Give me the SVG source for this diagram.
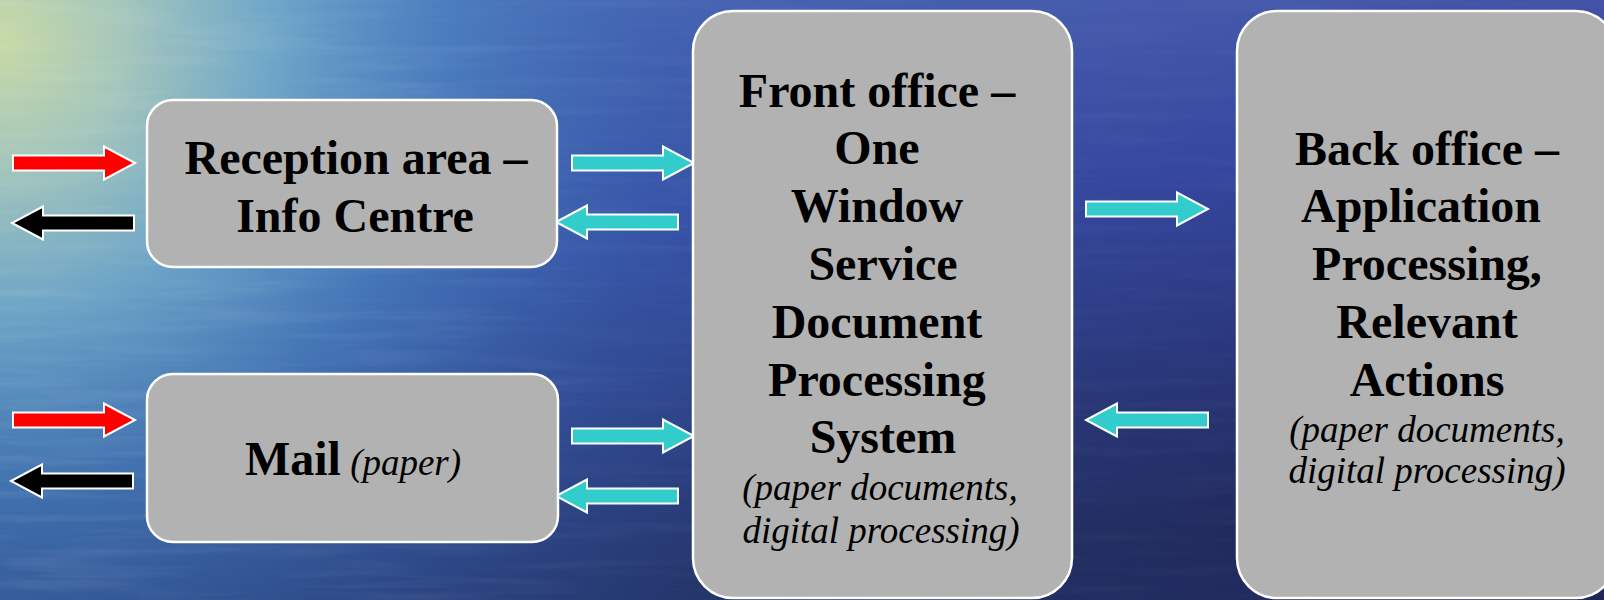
<svg xmlns="http://www.w3.org/2000/svg" xmlns:xlink="http://www.w3.org/1999/xlink" width="1604" height="600" viewBox="0 0 1604 600">
  <defs>
    <linearGradient id="bgBase" x1="0" y1="0" x2="0.25" y2="1">
      <stop offset="0" stop-color="#5163b2"/>
      <stop offset="0.45" stop-color="#34419a"/>
      <stop offset="0.8" stop-color="#262d6c"/>
      <stop offset="1" stop-color="#1f2456"/>
    </linearGradient>
    <radialGradient id="bgGlow" gradientUnits="userSpaceOnUse" cx="0" cy="40" r="900">
      <stop offset="0" stop-color="#c8d9a6" stop-opacity="1"/>
      <stop offset="0.14" stop-color="#a9cbbc" stop-opacity="0.95"/>
      <stop offset="0.3" stop-color="#78b3cc" stop-opacity="0.85"/>
      <stop offset="0.5" stop-color="#4d8cc6" stop-opacity="0.6"/>
      <stop offset="0.75" stop-color="#3c66b4" stop-opacity="0.3"/>
      <stop offset="1" stop-color="#3558aa" stop-opacity="0"/>
    </radialGradient>
    <linearGradient id="leftBlue" x1="0" y1="0" x2="1" y2="0">
      <stop offset="0" stop-color="#3a7fc4" stop-opacity="0.55"/>
      <stop offset="1" stop-color="#3a7fc4" stop-opacity="0"/>
    </linearGradient>
    <filter id="water" x="0" y="0" width="100%" height="100%">
      <feTurbulence type="fractalNoise" baseFrequency="0.006 0.09" numOctaves="3" seed="7" result="n"/>
      <feColorMatrix in="n" type="matrix" values="0 0 0 0 1  0 0 0 0 1  0 0 0 0 1  0 0 0 -2.2 1.25"/>
    </filter>
    <linearGradient id="waterMaskGrad" x1="0" y1="0" x2="1" y2="0">
      <stop offset="0" stop-color="#fff" stop-opacity="0.9"/>
      <stop offset="0.45" stop-color="#fff" stop-opacity="0.35"/>
      <stop offset="1" stop-color="#fff" stop-opacity="0.25"/>
    </linearGradient>
    <mask id="waterMask">
      <rect width="1604" height="600" fill="url(#waterMaskGrad)"/>
    </mask>
    <path id="arrowR" d="M0,-7.5 H91 V-16.5 L122,0 L91,16.5 V7.5 H0 Z"/>
    <style>
      .box { fill: #b2b2b2; stroke: #ffffff; stroke-width: 2.5; }
      .t { font-family: "Liberation Serif", "Times New Roman", serif; fill: #000; text-anchor: middle; }
      .b { font-weight: bold; font-size: 48px; }
      .i { font-style: italic; font-size: 37px; }
      .arr { stroke: #ffffff; stroke-width: 2; stroke-linejoin: miter; }
      .red { fill: #ff0000; }
      .blk { fill: #000000; }
      .cyn { fill: #33cccc; }
    </style>
  </defs>

  <g id="background">
    <rect width="1604" height="600" fill="url(#bgBase)"/>
    <rect width="1604" height="600" fill="url(#leftBlue)" opacity="0.6"/>
    <rect width="1604" height="600" fill="url(#bgGlow)"/>
    <rect width="1604" height="600" filter="url(#water)" mask="url(#waterMask)" opacity="0.1"/>
  </g>

  <g id="connectors">
    <use xlink:href="#arrowR" href="#arrowR" class="arr red" transform="translate(13 163)"/>
    <use xlink:href="#arrowR" href="#arrowR" class="arr blk" transform="translate(134 223) scale(-1 1)"/>
    <use xlink:href="#arrowR" href="#arrowR" class="arr red" transform="translate(13 420)"/>
    <use xlink:href="#arrowR" href="#arrowR" class="arr blk" transform="translate(133 481) scale(-1 1)"/>
    <use xlink:href="#arrowR" href="#arrowR" class="arr cyn" transform="translate(572 163)"/>
    <use xlink:href="#arrowR" href="#arrowR" class="arr cyn" transform="translate(678 222) scale(-1 1)"/>
    <use xlink:href="#arrowR" href="#arrowR" class="arr cyn" transform="translate(572 436)"/>
    <use xlink:href="#arrowR" href="#arrowR" class="arr cyn" transform="translate(678 496) scale(-1 1)"/>
    <use xlink:href="#arrowR" href="#arrowR" class="arr cyn" transform="translate(1086 209)"/>
    <use xlink:href="#arrowR" href="#arrowR" class="arr cyn" transform="translate(1208 420) scale(-1 1)"/>
  </g>

  <g id="reception">
    <rect class="box" x="147" y="100" width="410" height="167" rx="26" ry="26"/>
    <text class="t b" x="356" y="174">Reception area –</text>
    <text class="t b" x="355" y="232">Info Centre</text>
  </g>

  <g id="mail">
    <rect class="box" x="147" y="374" width="411" height="168" rx="26" ry="26"/>
    <text class="t" x="353" y="475"><tspan class="b">Mail</tspan><tspan class="i" font-size="36"> (paper)</tspan></text>
  </g>

  <g id="front-office">
    <rect class="box" x="693" y="11" width="379" height="587" rx="40" ry="40"/>
    <text class="t b" x="877" y="106.5">Front office –</text>
    <text class="t b" x="877" y="164.3">One</text>
    <text class="t b" x="877" y="222.1">Window</text>
    <text class="t b" x="883" y="279.9">Service</text>
    <text class="t b" x="877" y="337.7">Document</text>
    <text class="t b" x="877" y="395.5">Processing</text>
    <text class="t b" x="883" y="453.3">System</text>
    <text class="t i" x="880" y="500">(paper documents,</text>
    <text class="t i" x="881" y="542.5">digital processing)</text>
  </g>

  <g id="back-office">
    <rect class="box" x="1237" y="11" width="379" height="587" rx="40" ry="40"/>
    <text class="t b" x="1427" y="164.5">Back office –</text>
    <text class="t b" x="1421" y="222.3">Application</text>
    <text class="t b" x="1427" y="280.1">Processing,</text>
    <text class="t b" x="1427" y="337.9">Relevant</text>
    <text class="t b" x="1427" y="395.7">Actions</text>
    <text class="t i" x="1427" y="442">(paper documents,</text>
    <text class="t i" x="1427" y="483">digital processing)</text>
  </g>
</svg>
